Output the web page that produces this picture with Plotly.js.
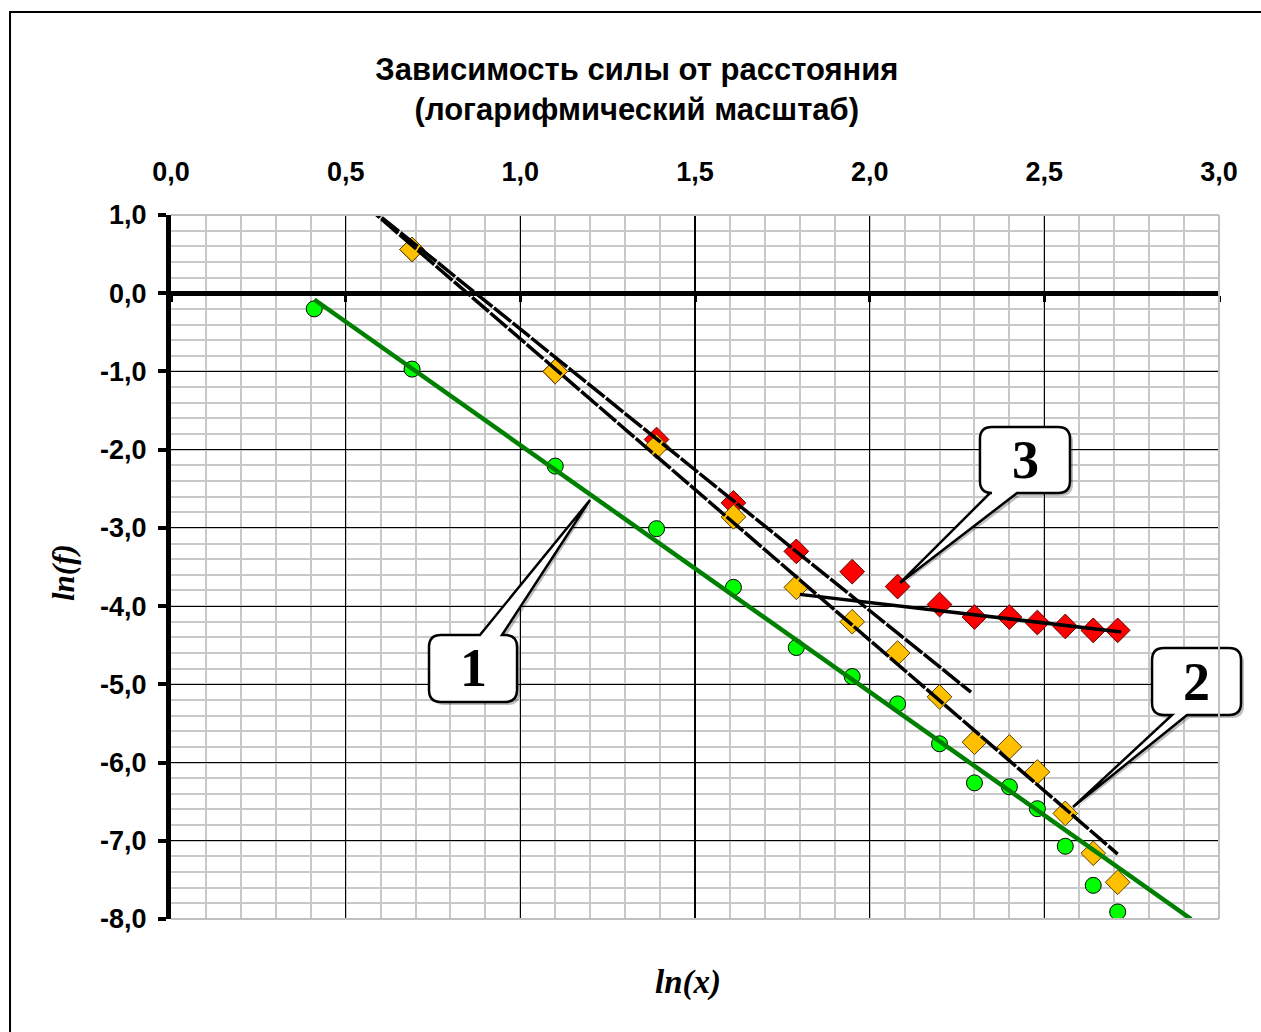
<!DOCTYPE html>
<html>
<head>
<meta charset="utf-8">
<script src="https://cdn.plot.ly/plotly-3.0.1.min.js"></script>
<style>html,body{margin:0;padding:0;background:#fff;}#chart{width:1261px;height:1032px;}</style>
</head>
<body>
<div id="chart"></div>
<script>
// ---- data ----
const xGreen = [0.41, 0.69, 1.10, 1.39, 1.61, 1.79, 1.95, 2.08, 2.20, 2.30, 2.40, 2.48, 2.56, 2.64, 2.71];
const yGreen = [-0.20, -0.97, -2.21, -3.01, -3.76, -4.53, -4.90, -5.25, -5.76, -6.26, -6.31, -6.59, -7.07, -7.57, -7.91];

const xDiam = [0.69, 1.10, 1.39, 1.61, 1.79, 1.95, 2.08, 2.20, 2.30, 2.40, 2.48, 2.56, 2.64, 2.71];
const yYellow = [0.56, -1.00, -1.96, -2.86, -3.76, -4.20, -4.60, -5.16, -5.74, -5.80, -6.12, -6.65, -7.16, -7.53];
const yRed = [0.56, -1.00, -1.87, -2.68, -3.30, -3.56, -3.75, -3.98, -4.14, -4.14, -4.21, -4.26, -4.31, -4.31];

// trend lines (end points)
const trendGreenX = [0.41, 2.92];
const trendGreenY = [-0.08, -8.0];
const trendAX = [0.55, 2.29];
const trendAY = [1.16, -5.10];
const trendBX = [0.55, 2.71];
const trendBY = [1.15, -7.17];
const trendCX = [1.80, 2.72];
const trendCY = [-3.85, -4.33];

const xTicks = [0, 0.5, 1.0, 1.5, 2.0, 2.5, 3.0];
const yTicks = [1, 0, -1, -2, -3, -4, -5, -6, -7, -8];
const calloutLabels = ['1', '2', '3'];

// ---- geometry helpers (image pixels -> paper fractions) ----
const PL = 171, PR = 1219, PT = 215, PB = 919;
const W = PR - PL, H = PB - PT;
function px(x){ return ((x - PL) / W).toFixed(4); }
function py(y){ return ((PB - y) / H).toFixed(4); }
function pt(x, y){ return px(x) + ',' + py(y); }

function callout(x0, y0, x1, y1, r, side, b1, b2, tx, ty){
  let d = 'M' + pt(x0 + r, y0);
  if (side === 'top') { d += ' L' + pt(b1, y0) + ' L' + pt(tx, ty) + ' L' + pt(b2, y0); }
  d += ' L' + pt(x1 - r, y0) + ' Q' + pt(x1, y0) + ' ' + pt(x1, y0 + r);
  d += ' L' + pt(x1, y1 - r) + ' Q' + pt(x1, y1) + ' ' + pt(x1 - r, y1);
  if (side === 'bottom') { d += ' L' + pt(b2, y1) + ' L' + pt(tx, ty) + ' L' + pt(b1, y1); }
  d += ' L' + pt(x0 + r, y1) + ' Q' + pt(x0, y1) + ' ' + pt(x0, y1 - r);
  d += ' L' + pt(x0, y0 + r) + ' Q' + pt(x0, y0) + ' ' + pt(x0 + r, y0) + ' Z';
  return d;
}

const boxes = [
  {x0: 429, y0: 635, x1: 517, y1: 702, side: 'top', b1: 480, b2: 502, tx: 590, ty: 500, lx: 473, ly: 668},
  {x0: 1152, y0: 648, x1: 1241, y1: 715, side: 'bottom', b1: 1172, b2: 1187, tx: 1073, ty: 807, lx: 1196, ly: 682},
  {x0: 980, y0: 427, x1: 1070, y1: 493, side: 'bottom', b1: 990, b2: 1017, tx: 900, ty: 583, lx: 1025, ly: 460}
];

const shapes = [];
const annotations = [];
boxes.forEach((b, i) => {
  shapes.push({type: 'path', xref: 'paper', yref: 'paper', layer: 'above',
    path: callout(b.x0 + 3, b.y0 + 3, b.x1 + 3, b.y1 + 3, 12, b.side, b.b1 + 3, b.b2 + 3, b.tx + 2, b.ty + 2),
    fillcolor: 'rgba(0,0,0,0.25)', line: {width: 0}});
  shapes.push({type: 'path', xref: 'paper', yref: 'paper', layer: 'above',
    path: callout(b.x0, b.y0, b.x1, b.y1, 12, b.side, b.b1, b.b2, b.tx, b.ty),
    fillcolor: '#ffffff', line: {color: '#000000', width: 2.5}});
  annotations.push({xref: 'paper', yref: 'paper', x: +px(b.lx), y: +py(b.ly), xanchor: 'center', yanchor: 'middle',
    text: '<b>' + calloutLabels[i] + '</b>', showarrow: false,
    font: {family: 'Liberation Serif, Times New Roman, serif', size: 54, color: '#000'}});
});

// plot-area border (gray top, right, bottom)
shapes.push({type: 'line', xref: 'paper', yref: 'paper', x0: 0, x1: 1, y0: 1, y1: 1, line: {color: '#c0c0c0', width: 2}, layer: 'above'});
shapes.push({type: 'line', xref: 'paper', yref: 'paper', x0: 1, x1: 1, y0: 0, y1: 1, line: {color: '#c0c0c0', width: 2}, layer: 'above'});
shapes.push({type: 'line', xref: 'paper', yref: 'paper', x0: 0, x1: 1, y0: 0, y1: 0, line: {color: '#c0c0c0', width: 2}, layer: 'above'});
// outer frame of the picture
shapes.push({type: 'rect', xref: 'paper', yref: 'paper', x0: +px(10), x1: +px(1275), y0: +py(1045), y1: +py(12),
  line: {color: '#000', width: 2}, fillcolor: 'rgba(0,0,0,0)', layer: 'below'});

annotations.push({xref: 'paper', yref: 'paper', x: +px(688), y: +py(983), xanchor: 'center', yanchor: 'middle',
  text: '<b><i>ln(x)</i></b>', showarrow: false,
  font: {family: 'Liberation Serif, Times New Roman, serif', size: 33, color: '#000'}});
annotations.push({xref: 'paper', yref: 'paper', x: +px(64), y: +py(572), xanchor: 'center', yanchor: 'middle',
  text: '<b><i>ln(f)</i></b>', showarrow: false, textangle: -90,
  font: {family: 'Liberation Serif, Times New Roman, serif', size: 31, color: '#000'}});

const dashStyle = '22px,2px';
const traces = [
  {x: xDiam, y: yRed, type: 'scatter', mode: 'markers', name: '3',
    marker: {symbol: 'diamond', size: 19, color: '#ff0000', line: {color: '#600000', width: 1}}},
  {x: xDiam, y: yYellow, type: 'scatter', mode: 'markers', name: '2',
    marker: {symbol: 'diamond', size: 19, color: '#ffc000', line: {color: '#5a4000', width: 1}}},
  {x: xGreen, y: yGreen, type: 'scatter', mode: 'markers', name: '1',
    marker: {symbol: 'circle', size: 16, color: '#00ff00', line: {color: '#000', width: 1}}},
  {x: trendGreenX, y: trendGreenY, type: 'scatter', mode: 'lines', name: 'fit 1',
    line: {color: '#008000', width: 4.5}},
  {x: trendAX, y: trendAY, type: 'scatter', mode: 'lines', name: 'fit 3a',
    line: {color: '#000', width: 3.5, dash: dashStyle}},
  {x: trendBX, y: trendBY, type: 'scatter', mode: 'lines', name: 'fit 2',
    line: {color: '#000', width: 3.5, dash: dashStyle}},
  {x: trendCX, y: trendCY, type: 'scatter', mode: 'lines', name: 'fit 3b',
    line: {color: '#000', width: 3.5}},
  // carrier for the axis drawn along ln(f) = 0
  {x: [null], y: [null], type: 'scatter', mode: 'markers', xaxis: 'x2', yaxis: 'y', hoverinfo: 'skip', showlegend: false}
];

const tickFont = {family: 'Liberation Sans, Arial, sans-serif', size: 27, color: '#000', weight: 'bold'};

const layout = {
  width: 1261, height: 1032,
  margin: {l: PL, r: 1261 - PR, t: PT, b: 1032 - PB, autoexpand: false},
  paper_bgcolor: '#fff', plot_bgcolor: '#fff',
  separators: ',.',
  showlegend: false,
  title: {text: 'Зависимость силы от расстояния<br>(логарифмический масштаб)',
    x: 0.505, xanchor: 'center', y: 1 - 80 / 1032, yanchor: 'middle', yref: 'container',
    font: {family: 'Liberation Sans, Arial, sans-serif', size: 31, color: '#000', weight: 'bold'}},
  xaxis: {range: [0, 3], side: 'top', tickvals: xTicks, ticktext: xTicks.map(v => v.toFixed(1).replace('.', ',')),
    showline: false, zeroline: false, ticks: '', ticklabelstandoff: 28,
    showgrid: true, gridcolor: '#000', gridwidth: 1.2,
    minor: {dtick: 0.1, showgrid: true, gridcolor: '#c8c8c8', gridwidth: 2},
    tickfont: tickFont, automargin: false, fixedrange: true},
  xaxis2: {range: [0, 3], overlaying: 'x', anchor: 'free', position: 8 / 9, side: 'bottom',
    tickvals: xTicks, showticklabels: false, ticks: 'outside', ticklen: 6, tickwidth: 3, tickcolor: '#000',
    showline: true, linecolor: '#000', linewidth: 5, showgrid: false, zeroline: false, automargin: false, fixedrange: true},
  yaxis: {range: [-8, 1], tickvals: yTicks, ticktext: yTicks.map(v => v.toFixed(1).replace('.', ',')),
    showline: true, linecolor: '#000', linewidth: 5, ticks: 'outside', ticklen: 8, tickwidth: 4, tickcolor: '#000',
    ticklabelstandoff: 6,
    zeroline: true, zerolinecolor: '#000', zerolinewidth: 5,
    showgrid: true, gridcolor: '#000', gridwidth: 1.2,
    minor: {dtick: 0.2, showgrid: true, gridcolor: '#c8c8c8', gridwidth: 2},
    tickfont: tickFont, automargin: false, fixedrange: true},
  shapes: shapes,
  annotations: annotations
};

Plotly.newPlot('chart', traces, layout, {displayModeBar: false, staticPlot: true});
</script>
</body>
</html>
